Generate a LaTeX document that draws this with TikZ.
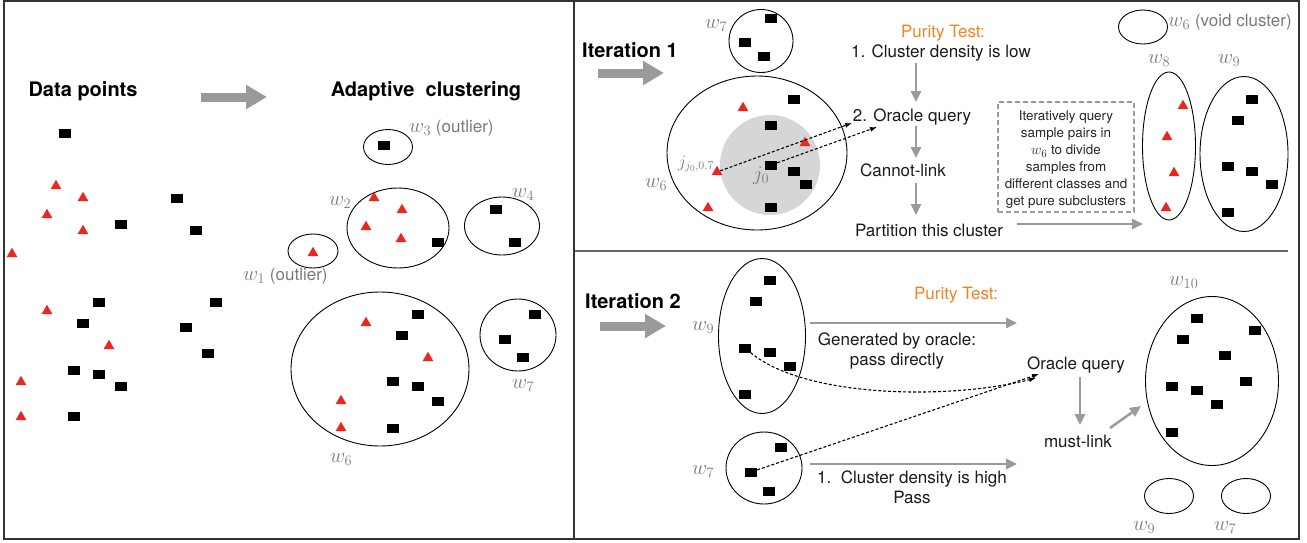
\documentclass[tikz,border=0pt]{standalone}
\usepackage{fontspec}
\setmainfont{TeX Gyre Heros}
\usetikzlibrary{arrows.meta,shapes.geometric}
\definecolor{tricol}{HTML}{E8281E}
\definecolor{arr}{HTML}{9A9A9A}
\definecolor{lab}{HTML}{7A7A7A}
\definecolor{org}{HTML}{F58220}
\definecolor{txtc}{HTML}{1A1A1A}
\newcommand\wsym[1]{{\fontsize{19.5}{20}\selectfont$w_{#1}$}}
\begin{document}
\begin{tikzpicture}[x=1pt,y=-1pt,
  sq/.style={fill=black,draw=none,inner sep=0pt,minimum width=12pt,minimum height=9pt},
  tr/.style={regular polygon,regular polygon sides=3,fill=tricol,draw=none,inner sep=0pt,minimum size=12.5pt},
  cl/.style={draw=black,ellipse,inner sep=0pt,line width=0.9pt},
  head/.style={font=\fontsize{20}{22}\selectfont\bfseries,text=black,anchor=base,inner sep=0pt},
  txt/.style={font=\fontsize{17}{20}\selectfont,text=txtc,anchor=base,inner sep=0pt},
  otxt/.style={font=\fontsize{17}{20}\selectfont,text=org,anchor=base,inner sep=0pt},
  wl/.style={font=\fontsize{17}{20}\selectfont,text=lab,anchor=base west,inner sep=0pt},
  bigarr/.style={draw=arr,line width=9pt,-{Triangle[length=21pt,width=23pt]}},
  garr/.style={draw=arr,line width=2.5pt,-{Triangle[length=11pt,width=10pt]}},
  darr/.style={draw=black,line width=1.1pt,dash pattern=on 3pt off 2pt,-{Latex[length=7pt,width=5pt]}},
  frame/.style={draw=black!80,line width=1.5pt}]
\useasboundingbox (0,0) rectangle (1307,542);
% frames
\draw[frame] (4,1) rectangle (574,539);
\draw[frame] (574,1) rectangle (1299,539);
\draw[draw=black!60,line width=1.3pt] (575,251) -- (1288,251);

% ---------- left panel ----------
\node[head] (hdp) at (83,96) {Data points};
\node[head] (hac) at (426,96) {Adaptive\ \ clustering};
\coordinate (a0s) at (201,97); \coordinate (a0e) at (267,97);
\draw[bigarr] (a0s) -- (a0e);
\foreach \x/\y [count=\i] in {65/133,177/198,121/224,196/230,99/302,216/302,83/323,186/327,208/353,74/370,99/374,121/386,74/416}
  \node[sq] (ls\i) at (\x,\y) {};
\foreach \x/\y [count=\i] in {56/186,83/198,47/215,83/231,12/254,47/311,109/346,21/382,21/417}
  \node[tr] (lt\i) at (\x,\y) {};

% adaptive clustering
\node[cl,minimum width=49pt,minimum height=35pt] (c3) at (388,147) {};
\node[sq] (c3s1) at (384,145) {};
\node[wl] (l3) at (409,132) {\wsym{3} (outlier)};
\node[cl,minimum width=102pt,minimum height=80pt] (c2) at (398,228) {};
\foreach \x/\y [count=\i] in {374/198,402/210,366/227,401/239}
  \node[tr] (c2t\i) at (\x,\y) {};
\node[sq] (c2s1) at (438,242) {};
\node[wl] (l2) at (329,205) {\wsym{2}};
\node[cl,minimum width=50pt,minimum height=34pt] (c1) at (313,251) {};
\node[tr] (c1t1) at (313,253) {};
\node[wl] (l1) at (243,280) {\wsym{1} (outlier)};
\node[cl,minimum width=75pt,minimum height=58pt] (c4) at (502,226) {};
\node[sq] (c4s1) at (496,209) {};
\node[sq] (c4s2) at (515,242) {};
\node[wl] (l4) at (512,197) {\wsym{4}};
\node[cl,minimum width=178pt,minimum height=154pt] (c6) at (380,369) {};
\foreach \x/\y [count=\i] in {366/323,428/358,341/401,341/428}
  \node[tr] (c6t\i) at (\x,\y) {};
\foreach \x/\y [count=\i] in {418/314,402/335,393/381,418/386,438/401,393/428}
  \node[sq] (c6s\i) at (\x,\y) {};
\node[wl] (l6) at (330,462) {\wsym{6}};
\node[cl,minimum width=76pt,minimum height=72pt] (c7) at (518,335) {};
\foreach \x/\y [count=\i] in {535/314,505/339,523/357}
  \node[sq] (c7s\i) at (\x,\y) {};
\node[wl] (l7) at (512,388) {\wsym{7}};

% ---------- iteration 1 ----------
\node[head] (hi1) at (630,57) {Iteration 1};
\coordinate (a1s) at (598,73); \coordinate (a1e) at (664,73);
\draw[bigarr] (a1s) -- (a1e);
\node[cl,minimum width=64pt,minimum height=63pt] (r7) at (761,41) {};
\foreach \x/\y [count=\i] in {771/18,745/42,764/56}
  \node[sq] (r7s\i) at (\x,\y) {};
\node[wl] (rl7) at (705,28) {\wsym{7}};
\node[cl,minimum width=180pt,minimum height=154pt] (r6) at (757,153) {};
\node[circle,fill=black!16,draw=none,minimum size=100pt,inner sep=0pt] (nb) at (770,165) {};
\foreach \x/\y [count=\i] in {794/99,771/125,794/171,806/184,771/207}
  \node[sq] (r6s\i) at (\x,\y) {};
\node[sq] (j0sq) at (771,165) {};
\node[tr] (r6t1) at (743,108) {};
\node[tr] (r6t2) at (805,143) {};
\node[tr] (jtri) at (717,172) {};
\node[tr] (r6t4) at (708,208) {};
\node[wl] (jl) at (678,167) {{\fontsize{18}{20}\selectfont$j_{j_0,0.7}$}};
\node[wl] (j0l) at (753,180) {{\fontsize{19.5}{20}\selectfont$j_0$}};
\node[wl] (rl6) at (645,187) {\wsym{6}};
\coordinate (q1) at (852,123);
\coordinate (q2) at (877,127);
\draw[darr] (jtri) -- (q1);
\draw[darr] (j0sq) -- (q2);

\node[otxt] (pt1) at (943,37) {Purity Test:};
\node[txt] (t1) at (941,57) {1. Cluster density is low};
\node[txt] (t2) at (912,121) {2. Oracle query};
\node[txt] (t3) at (903,176) {Cannot-link};
\node[txt] (t4) at (929,236) {Partition this cluster};
\coordinate (g1s) at (916,63); \coordinate (g1e) at (916,102);
\draw[garr] (g1s) -- (g1e);
\coordinate (g2s) at (916,126); \coordinate (g2e) at (916,158);
\draw[garr] (g2s) -- (g2e);
\coordinate (g3s) at (916,183); \coordinate (g3e) at (916,215);
\draw[garr] (g3s) -- (g3e);
\coordinate (g4s) at (1017,224); \coordinate (g4e) at (1143,224);
\draw[garr] (g4s) -- (g4e);

\node[draw=arr,line width=2pt,dash pattern=on 5pt off 3pt,minimum width=136pt,minimum height=110pt,inner sep=0pt] (dbox) at (1066,157) {};
\node[font=\fontsize{13.4}{17}\selectfont,text=black!85,align=center,inner sep=0pt] (dtxt) at (1066,160)
  {Iteratively query\\sample pairs in\\{\fontsize{15.5}{17}\selectfont$w_6$} to divide\\samples from\\different classes and\\get pure subclusters};

\node[cl,minimum width=49pt,minimum height=34pt] (rv6) at (1143,27) {};
\node[wl] (rlv6) at (1168,26) {\wsym{6} (void cluster)};
\node[cl,minimum width=53pt,minimum height=148pt] (r8) at (1169,146) {};
\foreach \x/\y [count=\i] in {1183/106,1167/137,1174/173,1166/208}
  \node[tr] (r8t\i) at (\x,\y) {};
\node[wl] (rl8) at (1148,63) {\wsym{8}};
\node[cl,minimum width=88pt,minimum height=155pt] (r9) at (1244,154) {};
\foreach \x/\y [count=\i] in {1252/99,1238/120,1228/166,1252/171,1272/184,1228/212}
  \node[sq] (r9s\i) at (\x,\y) {};
\node[wl] (rl9) at (1218,63) {\wsym{9}};

% ---------- iteration 2 ----------
\node[head] (hi2) at (633,308) {Iteration 2};
\coordinate (a2s) at (600,326); \coordinate (a2e) at (666,326);
\draw[bigarr] (a2s) -- (a2e);
\node[cl,minimum width=87pt,minimum height=155pt] (b9) at (762,336) {};
\foreach \x/\y [count=\i] in {770/280,756/301,770/352,790/366,745/394}
  \node[sq] (b9s\i) at (\x,\y) {};
\node[sq] (b9q) at (745,348) {};
\node[wl] (bl9) at (692,330) {\wsym{9}};
\node[cl,minimum width=76pt,minimum height=72pt] (b7) at (764,468) {};
\node[sq] (b7s1) at (781,447) {};
\node[sq] (b7q) at (751,472) {};
\node[sq] (b7s3) at (769,491) {};
\node[wl] (bl7) at (692,474) {\wsym{7}};

\node[otxt] (pt2) at (956,299) {Purity Test:};
\coordinate (h1s) at (810,323); \coordinate (h1e) at (1017,323);
\draw[garr] (h1s) -- (h1e);
\node[txt] (u1) at (897,345) {Generated by oracle:};
\node[txt] (u2) at (897,365) {pass directly};
\coordinate (h2s) at (810,464); \coordinate (h2e) at (1017,464);
\draw[garr] (h2s) -- (h2e);
\node[txt] (v1) at (912,483) {1.\ \ Cluster density is high};
\node[txt] (v2) at (912,503) {Pass};

\coordinate (oq1) at (1036,378);
\coordinate (oq2) at (1039,374);
\draw[darr] (b9q) .. controls (805,398) and (950,400) .. (oq1);
\draw[darr] (b7q) -- (oq2);
\node[txt] (oq) at (1076,369) {Oracle query};
\node[txt] (ml) at (1078,447) {must-link};
\coordinate (k1s) at (1080,377); \coordinate (k1e) at (1080,425);
\draw[garr] (k1s) -- (k1e);
\coordinate (k2s) at (1110,428); \coordinate (k2e) at (1141,406);
\draw[garr] (k2s) -- (k2e);

\node[cl,minimum width=133pt,minimum height=169pt] (b10) at (1212,381) {};
\foreach \x/\y [count=\i] in {1197/318,1255/330,1183/339,1225/355,1172/386,1197/390,1246/381,1217/404,1172/432}
  \node[sq] (b10s\i) at (\x,\y) {};
\node[wl] (bl10) at (1169,285) {\wsym{10}};
\node[cl,minimum width=49pt,minimum height=35pt] (e9) at (1169,496) {};
\node[cl,minimum width=49pt,minimum height=35pt] (e7) at (1246,496) {};
\node[wl] (el9) at (1133,530) {\wsym{9}};
\node[wl] (el7) at (1214,530) {\wsym{7}};
\end{tikzpicture}
\end{document}
